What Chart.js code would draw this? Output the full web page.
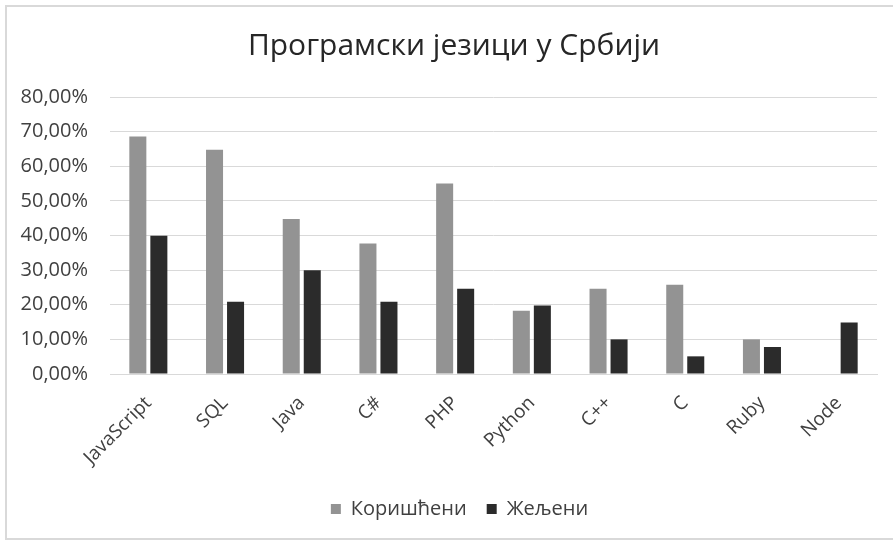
<!DOCTYPE html>
<html>
<head>
<meta charset="utf-8">
<script src="https://cdn.jsdelivr.net/npm/chart.js@4"></script>
<style>
  html, body { margin: 0; padding: 0; background: #fff; }
  #wrap { position: relative; width: 893px; height: 544px; overflow: hidden; }
  #frame { position: absolute; left: 5px; top: 5px; width: 900px; height: 535px; border: 2px solid #d9d9d9; box-sizing: border-box; }
  #c { position: absolute; left: 0; top: 0; }
</style>
</head>
<body>
<div id="wrap">
  <div id="frame"></div>
  <canvas id="c" width="893" height="544"></canvas>
</div>
<script>
const chartTitle = 'Програмски језици у Србији';
const categories = ['JavaScript', 'SQL', 'Java', 'C#', 'PHP', 'Python', 'C++', 'C', 'Ruby', 'Node'];
const seriesNames = ['Коришћени', 'Жељени'];
const usedValues = [68.6, 64.8, 44.8, 37.7, 55.0, 18.3, 24.6, 25.8, 10.0, null];
const wantedValues = [39.9, 20.9, 30.0, 20.9, 24.6, 19.8, 10.0, 5.1, 7.8, 14.9];
const yMin = 0, yMax = 80, yStep = 10;

const FONT = "'Open Sans', 'Liberation Sans', sans-serif";

const shiftBlocks = {
  id: 'shiftBlocks',
  afterLayout(chart) {
    const t = chart.titleBlock;
    if (t) { t.left += 31; }
    const l = chart.legend;
    if (l) { l.left += 42; }
  }
};

new Chart(document.getElementById('c'), {
  type: 'bar',
  data: {
    labels: categories,
    datasets: [
      { label: seriesNames[0], data: usedValues, backgroundColor: '#939393', borderColor: '#939393', borderWidth: 0,
        categoryPercentage: 0.548, barPercentage: 0.81 },
      { label: seriesNames[1], data: wantedValues, backgroundColor: '#2b2b2b', borderColor: '#2b2b2b', borderWidth: 0,
        categoryPercentage: 0.548, barPercentage: 0.81 }
    ]
  },
  plugins: [shiftBlocks],
  options: {
    responsive: false,
    animation: false,
    layout: { padding: { left: 0, right: 16, top: 0, bottom: 15 } },
    plugins: {
      title: {
        display: true, text: chartTitle, color: '#262626',
        font: { family: FONT, size: 30, weight: 'normal' },
        padding: { top: 28, bottom: 33 }
      },
      legend: {
        position: 'bottom',
        labels: {
          color: '#404040', boxWidth: 10, boxHeight: 10, padding: 20,
          font: { family: FONT, size: 20 }
        }
      },
      tooltip: { enabled: false }
    },
    scales: {
      x: {
        grid: { display: false },
        border: { display: true, color: '#d9d9d9', width: 1 },
        ticks: {
          color: '#404040', font: { family: FONT, size: 19 },
          minRotation: 45, maxRotation: 45, autoSkip: false, padding: 10
        },
        afterFit: (s) => { s.height = 105; }
      },
      y: {
        min: yMin, max: yMax,
        grid: { color: '#d9d9d9', lineWidth: 1, drawTicks: false },
        border: { display: false },
        ticks: {
          stepSize: yStep, color: '#404040', padding: 22,
          font: { family: FONT, size: 20 },
          callback: (v) => v.toFixed(2).replace('.', ',') + '%'
        },
        afterFit: (s) => { s.width = 110; }
      }
    }
  }
});
</script>
</body>
</html>
